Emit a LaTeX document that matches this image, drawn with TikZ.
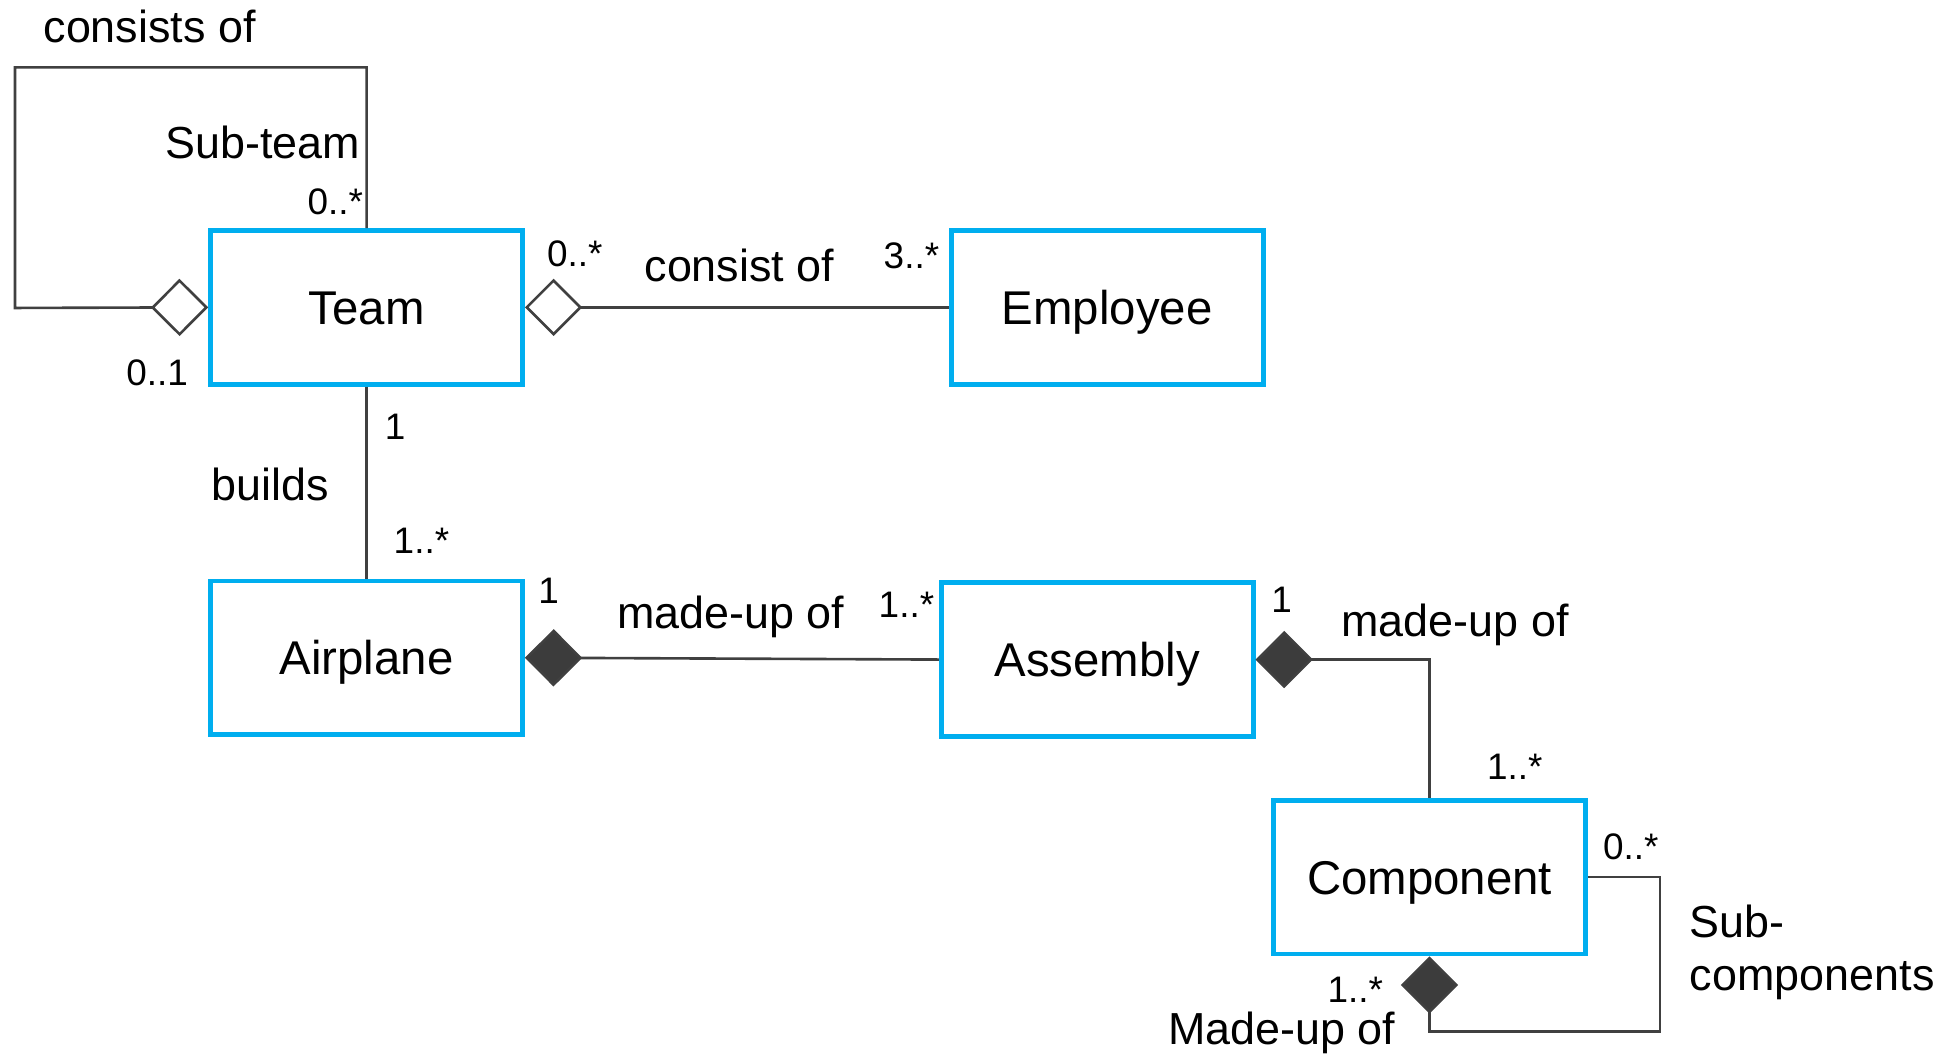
\documentclass[tikz,border=0pt]{standalone}
\usepackage{fontspec}
\setmainfont{Liberation Sans}
\usetikzlibrary{arrows.meta}
\definecolor{classblue}{RGB}{0,174,239}
\definecolor{linkgray}{RGB}{64,64,64}
\definecolor{diafill}{RGB}{60,60,60}
\begin{document}
\begin{tikzpicture}[x=0.5pt,y=-0.5pt,
  classbox/.style={draw=classblue, line width=1.9pt, rectangle, inner sep=0pt,
    minimum width=125.1pt, minimum height=61.6pt, text height=13.7pt, text depth=0pt,
    font=\fontsize{19}{22}\selectfont},
  link/.style={draw=linkgray, line width=1.05pt},
  aggr/.style={link, -{Diamond[open, fill=white, length=23pt, width=23pt]}},
  comp/.style={link, -{Diamond[fill=diafill, length=23pt, width=23pt]}},
  role/.style={inner sep=0pt, text height=7.2pt, text depth=2.1pt, yshift=-3.5pt,
    font=\fontsize{18}{21}\selectfont},
  mult/.style={inner sep=0pt, text height=7.2pt, text depth=2.1pt, yshift=-3.5pt,
    font=\fontsize{14.8}{17}\selectfont}]
  \useasboundingbox[fill=white] (0,0) rectangle (1568,845);

  % classes
  \node[classbox] (team)      at (294,246.5)  {Team};
  \node[classbox] (employee)  at (888,246.5)  {Employee};
  \node[classbox] (airplane)  at (294,527.5)  {Airplane};
  \node[classbox] (assembly)  at (880,529)    {Assembly};
  \node[classbox] (component) at (1146.5,703.5) {Component};

  % associations
  \draw[aggr] (team.north) |- (12,54) -- (12,247) -- (team.west);
  \draw[aggr] (employee.west) -- (team.east);
  \draw[link] (team.south) -- (airplane.north);
  \draw[comp] (assembly.west) -- (airplane.east);
  \draw[comp] (component.north) |- (assembly.east);
  \draw[comp] (component.east) -- ++(58,0) -- ++(0,124) -| (component.south);

  % role names
  \node[role] (lblconsists) at (120,22)  {consists of};
  \node[role, anchor=east] (lblsubteam) at (289,115) {Sub-team};
  \node[role] (lblconsist)  at (593,214) {consist of};
  \node[role] (lblbuilds)   at (217,389) {builds};
  \node[role] (lblmade1)    at (586,492) {made-up of};
  \node[role] (lblmade2)    at (1167,498) {made-up of};
  \node[role, anchor=west] (lblsub)  at (1355,740) {Sub-};
  \node[role, anchor=west] (lblsubc) at (1355,782) {components};
  \node[role] (lblmade3)    at (1028,826) {Made-up of};

  % multiplicities
  \node[mult] (m1)  at (269,160)  {0..*};
  \node[mult] (m2)  at (126,297)  {0..1};
  \node[mult] (m3)  at (461,202)  {0..*};
  \node[mult] (m4)  at (731,203)  {3..*};
  \node[mult] (m5)  at (317,340)  {1};
  \node[mult] (m6)  at (338,432)  {1..*};
  \node[mult] (m7)  at (440,472)  {1};
  \node[mult] (m8)  at (727,483)  {1..*};
  \node[mult] (m9)  at (1028,479) {1};
  \node[mult] (m10) at (1215,613) {1..*};
  \node[mult] (m11) at (1308,677) {0..*};
  \node[mult] (m12) at (1087,792) {1..*};
\end{tikzpicture}
\end{document}
